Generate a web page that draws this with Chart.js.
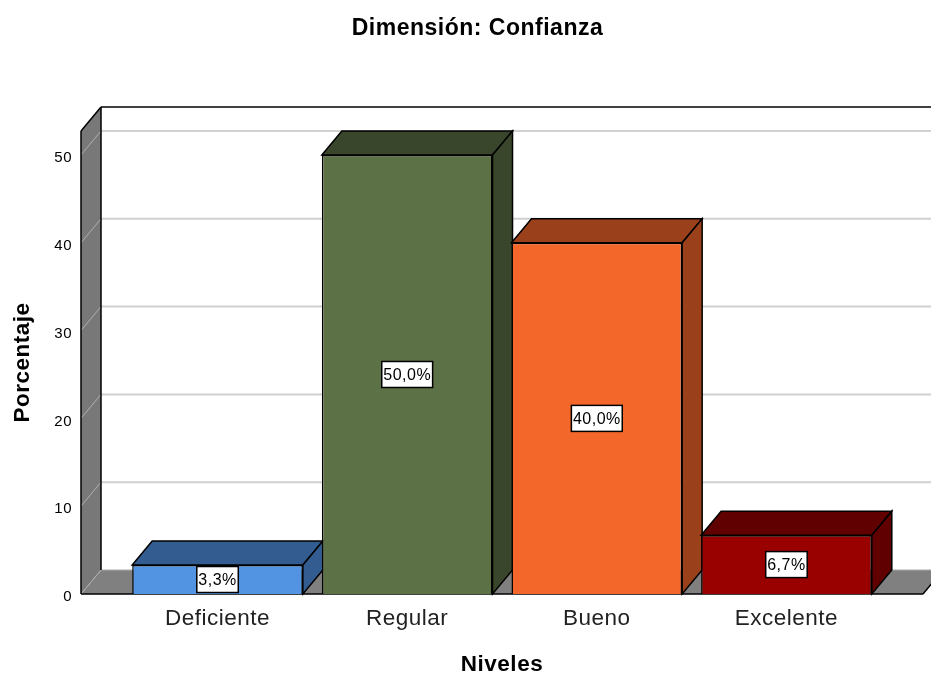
<!DOCTYPE html>
<html>
<head>
    <meta charset="UTF-8">
    <title>Dimensión: Confianza</title>
    <style type="text/css">
    html, body{
        margin: 0;
        padding: 0;
        background: #fff;
        overflow: hidden;
    }
    #wrap{
        position: relative;
        width: 931px;
        height: 675px;
    }
    #titulo{
        position: absolute;
        left: 0;
        top: 14px;
        width: 955px;
        text-align: center;
        letter-spacing: 0.5px;
        font: bold 23px "Liberation Sans", Arial, sans-serif;
        color: #000;
    }
    </style>
</head>
<body>
<div id="wrap">
    <div id="titulo">Dimensión: Confianza</div>
    <canvas id="myChart" width="931" height="675"></canvas>
</div>

<script src="https://cdn.jsdelivr.net/npm/chart.js@4/dist/chart.umd.js"></script>
<script type="text/javascript">
    var categorias = ['Deficiente', 'Regular', 'Bueno', 'Excelente']
    var porcentajes = [3.3, 50.0, 40.0, 6.7]
    var ticksY = [0, 10, 20, 30, 40, 50]
    var coloresFrente = ['#5294e2', '#5d7146', '#f4672b', '#990000']
    var coloresArriba = ['#335d90', '#3a462c', '#9a411b', '#600000']

    // desplazamiento de la profundidad 3D
    var fondoX = 20
    var fondoY = -24

    var poligono = function(ctx, pts, relleno, borde, ancho) {
        ctx.beginPath()
        ctx.moveTo(pts[0][0], pts[0][1])
        for (var i = 1; i < pts.length; i++) ctx.lineTo(pts[i][0], pts[i][1])
        ctx.closePath()
        ctx.fillStyle = relleno
        ctx.fill()
        if (borde) {
            ctx.strokeStyle = borde
            ctx.lineWidth = ancho
            ctx.stroke()
        }
    }

    var linea = function(ctx, x1, y1, x2, y2, color, ancho) {
        ctx.beginPath()
        ctx.moveTo(x1, y1)
        ctx.lineTo(x2, y2)
        ctx.strokeStyle = color
        ctx.lineWidth = ancho
        ctx.stroke()
    }

    // paredes, suelo, rejilla del fondo y caras 3D de las barras
    var caja3d = {
        id: 'caja3d',
        beforeDraw: function(chart) {
            // el original tiene el texto algo mas ancho
            chart.ctx.letterSpacing = '0.5px'
        },
        beforeDatasetsDraw: function(chart) {
            var ctx = chart.ctx
            var a = chart.chartArea
            var y = chart.scales.y
            var fx = fondoX, fy = fondoY

            ctx.save()
            // suelo
            poligono(ctx, [[a.left, a.bottom], [a.left + fx, a.bottom + fy], [a.right + fx, a.bottom + fy], [a.right, a.bottom]], '#808080')
            linea(ctx, a.left + fx, a.bottom + fy, a.left, a.bottom, '#aaaaaa', 1)
            linea(ctx, a.left + fx, a.bottom + fy, a.right + fx, a.bottom + fy, '#aaaaaa', 1)

            // rejilla en la pared del fondo
            ticksY.forEach(function(v) {
                if (v == 0) return
                var py = y.getPixelForValue(v)
                linea(ctx, a.left + fx, py + fy, a.right + fx, py + fy, '#d0d0d0', 2)
            })

            // pared izquierda
            poligono(ctx, [[a.left, a.top], [a.left + fx, a.top + fy], [a.left + fx, a.bottom + fy], [a.left, a.bottom]], '#787878')
            ticksY.forEach(function(v) {
                var py = y.getPixelForValue(v)
                linea(ctx, a.left, py, a.left + fx, py + fy, '#b0b0b0', 1)
            })
            linea(ctx, a.left, a.top, a.left, a.bottom, '#000', 1.5)
            linea(ctx, a.left, a.top, a.left + fx, a.top + fy, '#000', 1.5)
            linea(ctx, a.left + fx, a.top + fy, a.left + fx, a.bottom + fy, '#000', 1.5)
            linea(ctx, a.left + fx, a.top + fy, a.right + fx, a.top + fy, '#000', 1.5)
            linea(ctx, a.left, a.bottom, a.right, a.bottom, '#000', 1.5)
            linea(ctx, a.right, a.bottom, a.right + fx, a.bottom + fy, '#000', 1.5)

            // caras de arriba y del lado
            chart.getDatasetMeta(0).data.forEach(function(bar, i) {
                var izq = bar.x - bar.width / 2
                var der = bar.x + bar.width / 2
                poligono(ctx, [[izq, bar.y], [izq + fx, bar.y + fy], [der + fx, bar.y + fy], [der, bar.y]], coloresArriba[i], '#000', 1.5)
                poligono(ctx, [[der, bar.y], [der + fx, bar.y + fy], [der + fx, bar.base + fy], [der, bar.base]], coloresArriba[i], '#000', 1.5)
            })
            ctx.restore()
        },
        afterDatasetsDraw: function(chart) {
            var ctx = chart.ctx
            ctx.save()
            ctx.font = '16px "Liberation Sans", Arial, sans-serif'
            ctx.textAlign = 'center'
            ctx.textBaseline = 'middle'
            chart.getDatasetMeta(0).data.forEach(function(bar, i) {
                var txt = porcentajes[i].toFixed(1).replace('.', ',') + '%'
                var cy = (bar.y + bar.base) / 2
                var an = ctx.measureText(txt).width + 3
                ctx.fillStyle = '#fff'
                ctx.fillRect(bar.x - an / 2, cy - 13, an, 26)
                ctx.strokeStyle = '#000'
                ctx.lineWidth = 1.5
                ctx.strokeRect(bar.x - an / 2, cy - 13, an, 26)
                ctx.fillStyle = '#000'
                ctx.fillText(txt, bar.x, cy + 1)
            })
            ctx.restore()
        }
    }

    var ctx = document.getElementById('myChart').getContext('2d')
    var chart = new Chart(ctx, {
        type: 'bar',
        data: {
            datasets: [{
                data: porcentajes.map(function(v, i) { return {x: i, y: v} }),
                backgroundColor: coloresFrente,
                borderColor: '#000',
                borderWidth: 1.5,
                barPercentage: 0.9,
                categoryPercentage: 1
            }]
        },
        plugins: [caja3d],
        options: {
            responsive: false,
            animation: false,
            events: [],
            layout: {
                padding: {left: 9, right: 8, top: 131, bottom: 0}
            },
            plugins: {
                legend: {display: false},
                tooltip: {enabled: false}
            },
            scales: {
                x: {
                    type: 'linear',
                    offset: false,
                    min: -0.72,
                    max: 3.72,
                    afterBuildTicks: function(scale) {
                        scale.ticks = categorias.map(function(c, i) { return {value: i} })
                    },
                    afterFit: function(scale) {
                        scale.height = 81
                    },
                    ticks: {
                        callback: function(v) { return categorias[v] },
                        color: '#222',
                        maxRotation: 0,
                        autoSkip: false,
                        padding: 3,
                        font: {family: '"Liberation Sans", Arial, sans-serif', size: 22.5}
                    },
                    grid: {display: false},
                    border: {display: false},
                    title: {
                        display: true,
                        text: 'Niveles',
                        color: '#000',
                        padding: {top: 16, bottom: -3},
                        font: {family: '"Liberation Sans", Arial, sans-serif', size: 22.5, weight: 'bold'}
                    }
                },
                y: {
                    min: 0,
                    max: 52.73,
                    afterBuildTicks: function(scale) {
                        scale.ticks = ticksY.map(function(v) { return {value: v} })
                    },
                    afterFit: function(scale) {
                        scale.width = 72
                    },
                    ticks: {
                        color: '#000',
                        padding: 1,
                        labelOffset: 3,
                        font: {family: '"Liberation Sans", Arial, sans-serif', size: 15}
                    },
                    grid: {display: false},
                    border: {display: false},
                    title: {
                        display: true,
                        text: 'Porcentaje',
                        color: '#000',
                        padding: 0,
                        font: {family: '"Liberation Sans", Arial, sans-serif', size: 22.5, weight: 'bold'}
                    }
                }
            }
        }
    })
</script>
</body>
</html>
